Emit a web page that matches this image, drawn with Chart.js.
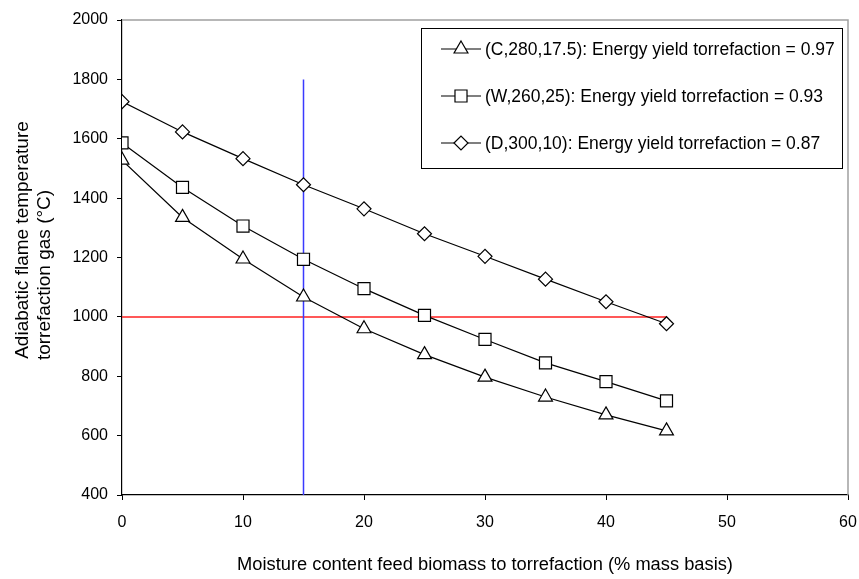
<!DOCTYPE html>
<html><head><meta charset="utf-8">
<script src="https://cdn.jsdelivr.net/npm/chart.js@4.4.0/dist/chart.umd.min.js"></script>
<style>html,body{margin:0;padding:0;background:#fff}#wrap{width:859px;height:579px}</style>
</head><body><div id="wrap"><canvas id="c" width="859" height="579"></canvas></div>
<script>
// ---- data ----
const moisture = [0, 5, 10, 15, 20, 25, 30, 35, 40, 45];
const seriesC = [1528, 1335, 1195, 1067, 960, 873, 797, 730, 670, 616];
const seriesW = [1586, 1436, 1306, 1194, 1095, 1005, 924, 845, 782, 717];
const seriesD = [1725, 1623, 1533, 1445, 1364, 1280, 1204, 1127, 1051, 977];
const seriesLabels = [
  "(C,280,17.5): Energy yield torrefaction = 0.97",
  "(W,260,25): Energy yield torrefaction = 0.93",
  "(D,300,10): Energy yield torrefaction = 0.87"
];
const verticalRefX = [15, 15];
const verticalRefY = [400, 1800];
const horizontalRefX = [0, 45];
const horizontalRefY = [1000, 1000];
const xTitle = "Moisture content feed biomass to torrefaction (% mass basis)";
const yTitle = ["Adiabatic flame temperature", "torrefaction gas (\u00B0C)"];

const FONT = "'Liberation Sans', Arial, sans-serif";
const pts = (xs, ys) => xs.map((x, i) => ({x: x, y: ys[i]}));

const markerDefs = [
  {pointStyle: 'triangle', radius: 8},
  {pointStyle: 'rect', radius: 8.5},
  {pointStyle: 'rectRot', radius: 7}
];

function seriesDs(label, ys, m) {
  return {
    label: label, data: pts(moisture, ys), showLine: true,
    borderColor: '#000', borderWidth: 1.2,
    pointStyle: m.pointStyle, pointRadius: m.radius, pointHoverRadius: m.radius,
    pointBackgroundColor: '#fff', pointBorderColor: '#000', pointBorderWidth: 1.2,
    order: 1
  };
}

const legendPlugin = {
  id: 'boxLegend',
  afterDraw(chart) {
    const ctx = chart.ctx;
    ctx.save();
    ctx.strokeStyle = '#000';
    ctx.lineWidth = 1;
    ctx.strokeRect(421.5, 28.5, 421, 140);
    const rows = [49, 96, 143];
    ctx.font = "17.5px " + FONT;
    ctx.textBaseline = 'middle';
    ctx.textAlign = 'left';
    for (let i = 0; i < 3; i++) {
      const y = rows[i];
      ctx.strokeStyle = '#000';
      ctx.lineWidth = 1.2;
      ctx.beginPath(); ctx.moveTo(441, y); ctx.lineTo(481, y); ctx.stroke();
      ctx.fillStyle = '#fff';
      Chart.helpers.drawPoint(ctx, {pointStyle: markerDefs[i].pointStyle, radius: markerDefs[i].radius, rotation: 0, borderWidth: 1.2}, 461, y);
      ctx.fillStyle = '#000';
      ctx.fillText(chart.data.datasets[i].label, 485, y + 1);
    }
    // y-axis title (two lines, rotated)
    ctx.font = "19px " + FONT;
    ctx.textAlign = 'center';
    ctx.textBaseline = 'middle';
    const centers = [[23, 240], [45, 275]];
    for (let i = 0; i < yTitle.length; i++) {
      ctx.save();
      ctx.translate(centers[i][0], centers[i][1]);
      ctx.rotate(-Math.PI / 2);
      ctx.fillText(yTitle[i], 0, 0);
      ctx.restore();
    }
    ctx.restore();
  }
};

const framePlugin = {
  id: 'frame',
  beforeDatasetsDraw(chart) {
    const a = chart.chartArea, ctx = chart.ctx;
    ctx.save();
    ctx.strokeStyle = '#a0a0a0';
    ctx.lineWidth = 1.5;
    ctx.beginPath();
    ctx.moveTo(a.left, a.top); ctx.lineTo(a.right, a.top); ctx.lineTo(a.right, a.bottom);
    ctx.stroke();
    ctx.restore();
  }
};

new Chart(document.getElementById('c'), {
  type: 'scatter',
  data: {
    datasets: [
      seriesDs(seriesLabels[0], seriesC, markerDefs[0]),
      seriesDs(seriesLabels[1], seriesW, markerDefs[1]),
      seriesDs(seriesLabels[2], seriesD, markerDefs[2]),
      {label: 'v', data: pts(verticalRefX, verticalRefY), showLine: true, borderColor: '#3a3aff', borderWidth: 1.5, pointRadius: 0, order: 2},
      {label: 'h', data: pts(horizontalRefX, horizontalRefY), showLine: true, borderColor: '#ff2020', borderWidth: 1.5, pointRadius: 0, order: 2}
    ]
  },
  options: {
    responsive: false, animation: false, devicePixelRatio: 1,
    layout: {padding: {top: 20, right: 11, left: 0, bottom: 0}},
    plugins: {legend: {display: false}, tooltip: {enabled: false}},
    scales: {
      x: {
        type: 'linear', min: 0, max: 60,
        ticks: {stepSize: 10, color: '#000', font: {family: FONT, size: 16}, padding: 13, maxRotation: 0, callback: v => String(v)},
        grid: {drawOnChartArea: false, drawTicks: true, tickLength: 5, color: '#000'},
        border: {display: true, color: '#000', width: 1.2},
        title: {display: true, text: xTitle, color: '#000', font: {family: FONT, size: 18.3}, padding: {bottom: 3, top: 0}},
        afterFit(s) { s.height = 84; s.paddingLeft = 0; s.paddingRight = 0; }
      },
      y: {
        type: 'linear', min: 400, max: 2000,
        ticks: {stepSize: 200, color: '#000', font: {family: FONT, size: 16}, padding: 9, callback: v => String(v)},
        grid: {drawOnChartArea: false, drawTicks: true, tickLength: 5, color: '#000'},
        border: {display: true, color: '#000', width: 1.2},
        title: {display: false},
        afterFit(s) { s.width = 122; s.paddingTop = 0; s.paddingBottom = 0; }
      }
    }
  },
  plugins: [framePlugin, legendPlugin]
});
</script></body></html>
